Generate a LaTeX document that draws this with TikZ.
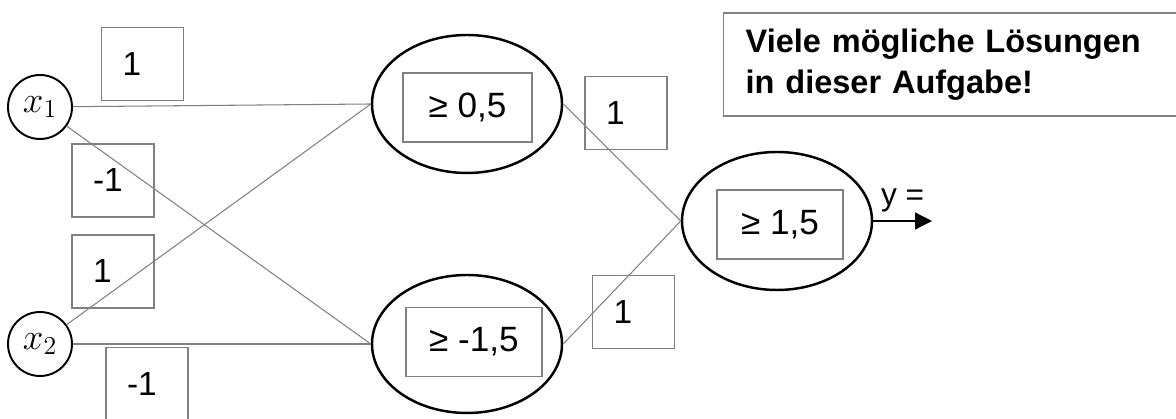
\documentclass[tikz,border=0pt]{standalone}
\usepackage{fix-cm}
\usepackage{fontspec}
\setmainfont{Liberation Sans}
\usetikzlibrary{arrows.meta, positioning, shapes.geometric}

\tikzset{
  input/.style={draw, circle, line width=1.1pt, minimum size=1.28cm, inner sep=0pt, font=\fontsize{21}{22}\selectfont},
  neuron/.style={draw, ellipse, line width=1.4pt, minimum width=3.8cm, minimum height=2.76cm},
  thres/.style={draw=gray, line width=0.6pt, minimum height=1.38cm, inner sep=2pt, font=\fontsize{20}{22}\selectfont},
  weight/.style={draw=gray, line width=0.6pt, text width=0.8cm, inner xsep=0.42cm, minimum height=1.46cm, align=left, font=\fontsize{19}{21}\selectfont},
  conn/.style={gray, line width=0.6pt},
  note/.style={draw=gray, line width=0.8pt, minimum height=2.06cm, text width=8.5cm, inner xsep=0.44cm, align=left, font=\bfseries\fontsize{18.5}{23}\selectfont},
}

\begin{document}
\begin{tikzpicture}
  \useasboundingbox (0,0) rectangle (23.52,8.38);

  % Eingaben
  \node[input] (x1) at (0.8,6.24) {$x_1$};
  \node[input] (x2) at (0.8,1.50) {$x_2$};

  % Neuronen
  \node[neuron] (h1) at (9.34,6.30) {};
  \node[neuron] (h2) at (9.34,1.50) {};
  \node[neuron] (out) at (15.54,3.96) {};
  \node[thres, minimum width=2.58cm] (t1) at (9.35,6.23) {≥ 0,5};
  \node[thres, minimum width=2.72cm] (t2) at (9.48,1.54) {≥ -1,5};
  \node[thres, minimum width=2.52cm] (t3) at (15.6,3.89) {≥ 1,5};

  % Gewichte
  \node[weight] (w11) at (2.85,7.10) {1};
  \node[weight] (w12) at (2.26,4.77) {-1};
  \node[weight] (w21) at (2.26,2.95) {1};
  \node[weight] (w22) at (2.94,0.70) {-1};
  \node[weight] (w31) at (12.52,6.12) {1};
  \node[weight] (w32) at (12.67,2.14) {1};

  % Verbindungen
  \draw[conn] (x1) -- (h1.west);
  \draw[conn] (x1) -- (h2.west);
  \draw[conn] (x2) -- (h1.west);
  \draw[conn] (x2) -- (h2.west);
  \draw[conn] (h1.east) -- (out.west);
  \draw[conn] (h2.east) -- (out.west);

  % Ausgabe
  \coordinate (yout) at (18.64,3.96);
  \draw[-{Triangle[length=3.4mm, width=3.4mm]}, line width=0.7pt] (out.east) -- (yout)
    node[midway, above=0.05cm, font=\fontsize{18}{20}\selectfont] (ylab) {y =};

  % Hinweis
  \node[note, anchor=west] (hint) at (14.46,7.09) {Viele mögliche Lösungen\\in dieser Aufgabe!};
\end{tikzpicture}
\end{document}
